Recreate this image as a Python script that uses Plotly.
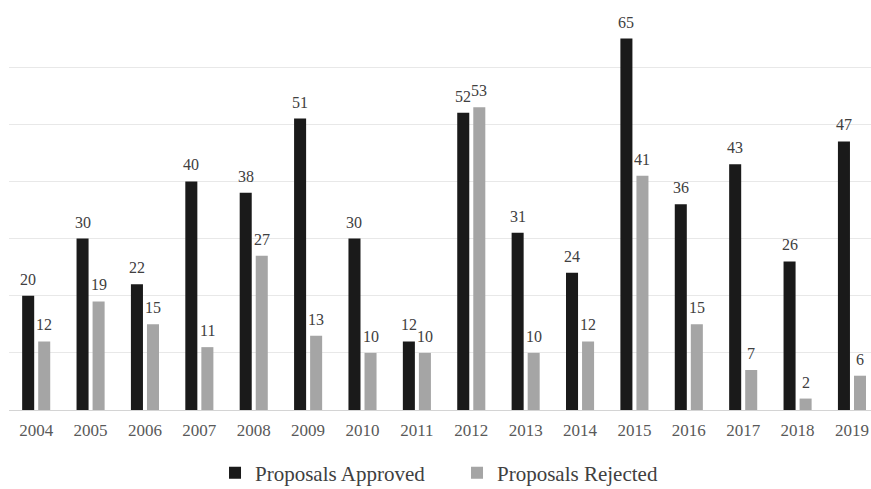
import plotly.graph_objects as go

years = ["2004", "2005", "2006", "2007", "2008", "2009", "2010", "2011",
         "2012", "2013", "2014", "2015", "2016", "2017", "2018", "2019"]
approved = [20, 30, 22, 40, 38, 51, 30, 12, 52, 31, 24, 65, 36, 43, 26, 47]
rejected = [12, 19, 15, 11, 27, 13, 10, 10, 53, 10, 12, 41, 15, 7, 2, 6]

FONT = "Liberation Serif"
BARGAP = 0.41

fig = go.Figure()
fig.add_trace(go.Bar(
    x=years, y=approved, name="Proposals Approved",
    marker=dict(color="#1a1a1a", line=dict(width=0)),
))
fig.add_trace(go.Bar(
    x=years, y=rejected, name="Proposals Rejected",
    marker=dict(color="#a5a5a5", line=dict(width=0)),
))

# value labels above bars, positioned at each bar's group slot centre
slot = (1 - BARGAP) / 2
annotations = []
for series, off in ((approved, -slot / 2), (rejected, slot / 2)):
    for i, v in enumerate(series):
        annotations.append(dict(
            x=i + off, y=v, xref="x", yref="y", text=str(v),
            showarrow=False, yanchor="bottom", xanchor="center", yshift=6,
            font=dict(family=FONT, size=16, color="#404040"),
        ))

fig.update_layout(
    width=871, height=489,
    margin=dict(l=9, r=0, t=10, b=79, autoexpand=False),
    paper_bgcolor="white", plot_bgcolor="white",
    barmode="group", bargap=BARGAP, bargroupgap=0.25,
    font=dict(family=FONT, color="#404040"),
    annotations=annotations,
    legend=dict(
        orientation="h", x=0.239, xanchor="left", y=-0.158, yanchor="middle",
        font=dict(family=FONT, size=21, color="#404040"),
        itemwidth=30, traceorder="normal",
        entrywidth=197, entrywidthmode="pixels",
    ),
    showlegend=True,
)
fig.update_xaxes(
    type="category", range=[-0.5, 15.35],
    showgrid=False, showline=False,
    ticks="outside", ticklen=5, tickcolor="rgba(0,0,0,0)",
    tickfont=dict(family=FONT, size=17, color="#595959"),
)
fig.update_yaxes(
    range=[0, 70], dtick=10, showticklabels=False,
    showgrid=True, gridcolor="#e8e8e8", gridwidth=1,
    zeroline=True, zerolinecolor="#d4d4d4", zerolinewidth=1,
)

fig.write_html("out.html")
